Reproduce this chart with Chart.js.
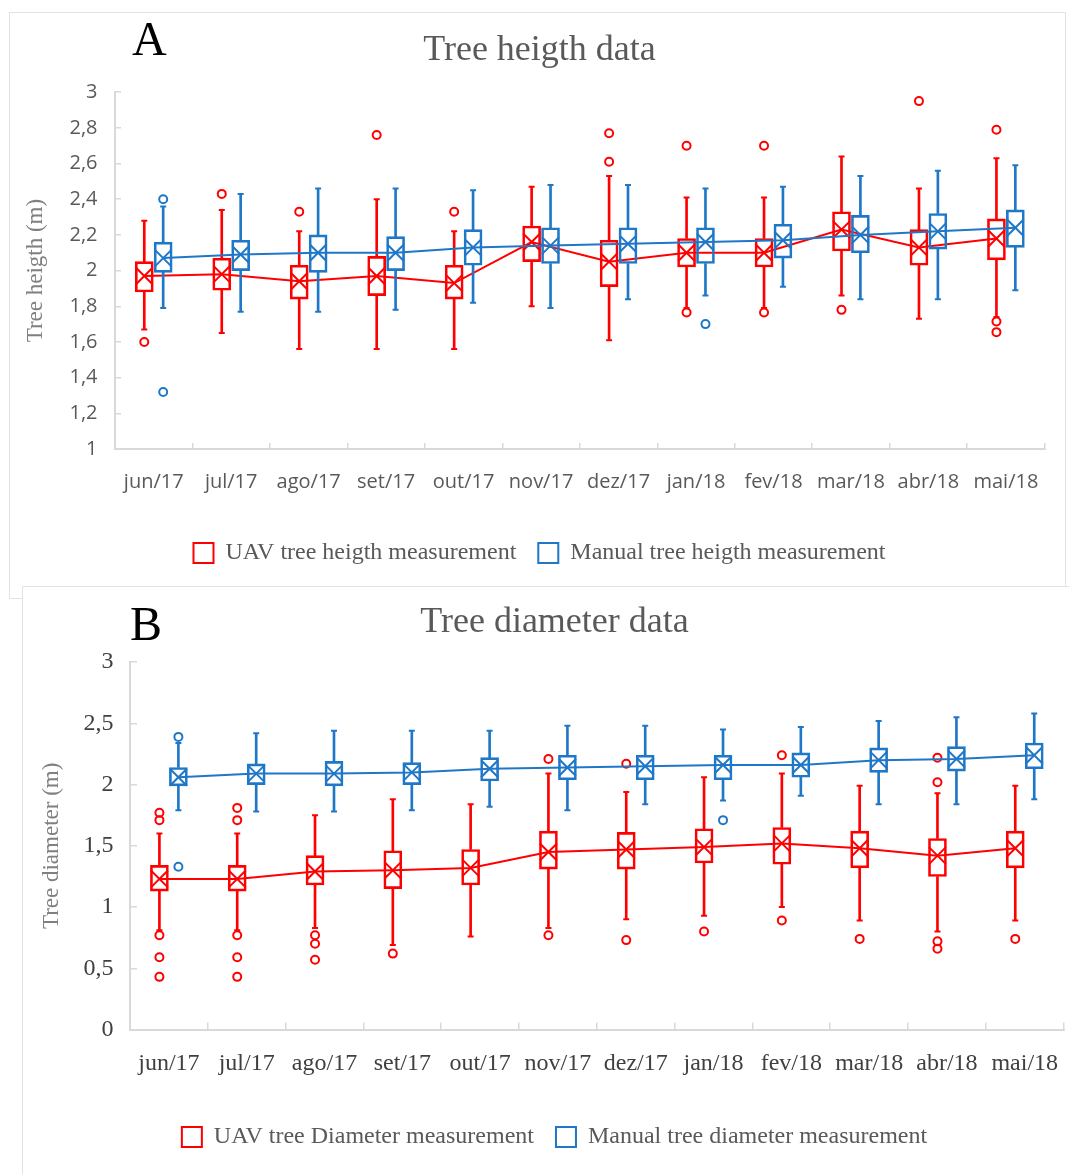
<!DOCTYPE html>
<html>
<head>
<meta charset="utf-8">
<script src="https://cdn.jsdelivr.net/npm/chart.js@4.4.1/dist/chart.umd.min.js"></script>
<style>
  body { margin:0; width:1069px; height:1174px; overflow:hidden; background:#fff; position:relative; }
  .panel { position:absolute; background:#fff; border:1px solid #e3e3e3; box-sizing:border-box; }
  #panelA { left:9px; top:12px; width:1057px; height:587px; }
  #panelB { left:22px; top:586px; width:1064px; height:600px; }
  canvas { position:absolute; }
  #chartA { left:9px; top:12px; }
  #chartB { left:22px; top:586px; }
  .tag { position:absolute; font-family:"Liberation Serif", serif; font-size:48px; line-height:48px; color:#000; }
</style>
</head>
<body>
<div class="panel" id="panelA"></div>
<canvas id="chartA" width="1057" height="587"></canvas>
<div class="panel" id="panelB"></div>
<canvas id="chartB" width="1064" height="588"></canvas>
<div class="tag" style="left:132px;top:15px">A</div>
<div class="tag" style="left:130px;top:600px">B</div>
<script>
const months = ['jun/17','jul/17','ago/17','set/17','out/17','nov/17','dez/17','jan/18','fev/18','mar/18','abr/18','mai/18'];
const heightTickLabels = ['1','1,2','1,4','1,6','1,8','2','2,2','2,4','2,6','2,8','3'];
const diameterTickLabels = ['0','0,5','1','1,5','2','2,5','3'];

// A - tree height, UAV
const uavHeightLow  = [1.67,1.65,1.56,1.56,1.56,1.80,1.61,1.79,1.79,1.86,1.73,1.74];
const uavHeightQ1   = [1.88,1.89,1.84,1.86,1.84,2.05,1.91,2.02,2.02,2.11,2.03,2.06];
const uavHeightMean = [1.97,1.98,1.94,1.97,1.93,2.16,2.05,2.10,2.10,2.23,2.13,2.18];
const uavHeightQ3   = [2.05,2.07,2.03,2.08,2.03,2.25,2.17,2.18,2.18,2.33,2.23,2.29];
const uavHeightHigh = [2.28,2.34,2.22,2.40,2.22,2.47,2.53,2.41,2.41,2.64,2.46,2.63];
const uavHeightOut  = [[1.60],[2.43],[2.33],[2.76],[2.33],[],[2.77,2.61],[2.70,1.765],[2.70,1.765],[1.78],[2.95],[2.79,1.715,1.655]];

// A - tree height, manual
const manHeightLow  = [1.79,1.77,1.77,1.78,1.82,1.79,1.84,1.86,1.91,1.84,1.84,1.89];
const manHeightQ1   = [1.99,2.00,1.99,2.00,2.03,2.04,2.04,2.04,2.07,2.10,2.12,2.13];
const manHeightMean = [2.07,2.09,2.10,2.10,2.13,2.14,2.15,2.16,2.17,2.20,2.22,2.24];
const manHeightQ3   = [2.16,2.17,2.20,2.19,2.23,2.24,2.24,2.24,2.26,2.31,2.32,2.34];
const manHeightHigh = [2.36,2.43,2.46,2.46,2.45,2.48,2.48,2.46,2.47,2.53,2.56,2.59];
const manHeightOut  = [[2.40,1.32],[],[],[],[],[],[],[1.70],[],[],[],[]];

// B - tree diameter, UAV
const uavDiamLow  = [0.81,0.81,0.83,0.69,0.76,0.83,0.90,0.93,1.00,0.89,0.80,0.89];
const uavDiamQ1   = [1.13,1.13,1.18,1.15,1.18,1.31,1.31,1.36,1.35,1.32,1.25,1.32];
const uavDiamMean = [1.23,1.23,1.29,1.30,1.32,1.45,1.47,1.49,1.52,1.48,1.42,1.48];
const uavDiamQ3   = [1.34,1.34,1.42,1.46,1.47,1.62,1.61,1.64,1.65,1.62,1.56,1.62];
const uavDiamHigh = [1.60,1.60,1.75,1.88,1.84,2.09,1.94,2.06,2.09,1.99,1.93,1.99];
const uavDiamOut  = [[1.77,1.71,0.77,0.59,0.43],[1.81,1.71,0.77,0.59,0.43],[0.77,0.70,0.57],[0.62],[],[2.21,0.77],[2.17,0.73],[0.80],[2.24,0.89],[0.74],[2.22,2.02,0.72,0.66],[0.74]];

// B - tree diameter, manual
const manDiamLow  = [1.79,1.78,1.78,1.79,1.82,1.79,1.84,1.87,1.91,1.84,1.84,1.88];
const manDiamQ1   = [1.99,2.00,1.99,2.00,2.03,2.04,2.04,2.04,2.06,2.10,2.11,2.13];
const manDiamMean = [2.06,2.09,2.09,2.10,2.13,2.14,2.15,2.16,2.16,2.20,2.21,2.24];
const manDiamQ3   = [2.14,2.17,2.19,2.18,2.22,2.24,2.24,2.24,2.26,2.30,2.31,2.34];
const manDiamHigh = [2.34,2.42,2.44,2.44,2.44,2.48,2.48,2.45,2.47,2.52,2.55,2.58];
const manDiamOut  = [[2.39,1.33],[],[],[],[],[],[],[1.71],[],[],[],[]];

const RED = '#ff0000';
const BLUE = '#1f77c8';
const AXIS = '#d9d9d9';
const SERIF = '"Liberation Serif", "Times New Roman", serif';
const SHIFT = 0.122; // box offset from category centre

function boxSeries(name, color, dx, order, low, q1, mean, q3, high, out) {
  const at = i => i + dx;
  return [
    { type:'bar', label:name, isBox:true, order, xAxisID:'x2',
      data: q1.map((v, i) => ({ x: at(i), y: [v, q3[i]] })),
      backgroundColor:'rgba(0,0,0,0)', borderColor:color, borderWidth:2, borderSkipped:false,
      barThickness:18, grouped:false },
    { type:'bar', label:name + ' whiskers', order, xAxisID:'x2',
      data: low.flatMap((v, i) => [{ x: at(i), y: [v, q1[i]] }, { x: at(i), y: [q3[i], high[i]] }]),
      backgroundColor:color, borderWidth:0, barThickness:2, grouped:false },
    { type:'scatter', label:name + ' caps', order, xAxisID:'x2',
      data: low.flatMap((v, i) => [{ x: at(i), y: v }, { x: at(i), y: high[i] }]),
      pointStyle:'line', pointRadius:3, pointBorderWidth:2, borderColor:color, pointBorderColor:color },
    { type:'scatter', label:name + ' outliers', order, xAxisID:'x2',
      data: out.flatMap((vals, i) => vals.map(v => ({ x: at(i), y: v }))),
      pointStyle:'circle', pointRadius:4, pointBorderWidth:2, borderColor:color,
      pointBorderColor:color, pointBackgroundColor:'rgba(0,0,0,0)' },
    { type:'line', label:name + ' mean', order, xAxisID:'x2',
      data: mean.map((v, i) => ({ x: at(i), y: v })),
      borderColor:color, borderWidth:2, tension:0,
      pointStyle:'crossRot', pointRadius:12, pointBorderWidth:2, pointBorderColor:color }
  ];
}

function drawChart(id, c) {
  new Chart(document.getElementById(id), {
    type: 'bar',
    data: { labels: months, datasets: [...c.red, ...c.blue] },
    options: {
      responsive: false,
      animation: false,
      events: [],
      layout: { padding: c.pad },
      plugins: {
        title: { display:true, text:c.title, color:'#595959',
                 font:{ family:SERIF, size:36, weight:'normal' }, padding:c.titlePad },
        legend: { position:'bottom',
          labels: { boxWidth:20, boxHeight:20, padding:22, color:'#595959',
                    font:{ family:SERIF, size:c.legendSize },
                    filter:(item, data) => data.datasets[item.datasetIndex].isBox,
                    sort:(a, b) => a.datasetIndex - b.datasetIndex } },
        tooltip: { enabled:false }
      },
      scales: {
        x: { type:'category', offset:true,
             grid: { offset:true, drawOnChartArea:false, tickLength:-c.tick, color:AXIS, lineWidth:1.5 },
             border: { color:AXIS, width:2 },
             ticks: { color:c.tickColor, font:c.tickFont, padding:c.xPad, maxRotation:0, autoSkip:false },
             afterFit: s => { s.height = c.xHeight; } },
        x2: { type:'linear', display:false, min:-0.5, max:11.5, offset:false },
        y: { min:c.min, max:c.max,
             ticks: { stepSize:c.step, color:c.tickColor, font:c.tickFont, padding:c.yPad,
                      callback:(v, i) => c.tickLabels[i] },
             grid: { drawOnChartArea:false, tickLength:-c.tick, color:AXIS, lineWidth:1.5 },
             border: { color:AXIS, width:2 },
             title: { display:true, text:c.yTitle, color:'#808080',
                      font:{ family:SERIF, size:23 }, padding:{ top:c.yTitlePad, bottom:0 } },
             afterFit: s => { s.width = c.yWidth; } }
      }
    }
  });
}

drawChart('chartA', {
  title: 'Tree heigth data', yTitle: 'Tree heigth (m)',
  min: 1, max: 3, step: 0.2, tickLabels: heightTickLabels,
  tickColor: '#595959', tickFont: { family:'"Open Sans", sans-serif', size:20 },
  legendSize: 24, tick: 6, xPad: 27, yPad: 23.5, yWidth: 86, yTitlePad: -6.8, xHeight: 70,
  pad: { top:0, right:16, bottom:24, left:20 }, titlePad: { top:16.5, bottom:20.5 },
  red: boxSeries('UAV tree heigth measurement', RED, -SHIFT, 1,
    uavHeightLow, uavHeightQ1, uavHeightMean, uavHeightQ3, uavHeightHigh, uavHeightOut),
  blue: boxSeries('Manual tree heigth measurement', BLUE, SHIFT, 0,
    manHeightLow, manHeightQ1, manHeightMean, manHeightQ3, manHeightHigh, manHeightOut)
});

drawChart('chartB', {
  title: 'Tree diameter data', yTitle: 'Tree diameter (m)',
  min: 0, max: 3, step: 0.5, tickLabels: diameterTickLabels,
  tickColor: '#404040', tickFont: { family:SERIF, size:24 },
  legendSize: 24, tick: 7, xPad: 27, yPad: 23.4, yWidth: 85, yTitlePad: -6.8, xHeight: 73.5,
  pad: { top:0, right:22, bottom:15, left:23 }, titlePad: { top:14.5, bottom:18.5 },
  red: boxSeries('UAV tree Diameter measurement', RED, -SHIFT, 1,
    uavDiamLow, uavDiamQ1, uavDiamMean, uavDiamQ3, uavDiamHigh, uavDiamOut),
  blue: boxSeries('Manual tree diameter measurement', BLUE, SHIFT, 0,
    manDiamLow, manDiamQ1, manDiamMean, manDiamQ3, manDiamHigh, manDiamOut)
});
</script>
</body>
</html>
